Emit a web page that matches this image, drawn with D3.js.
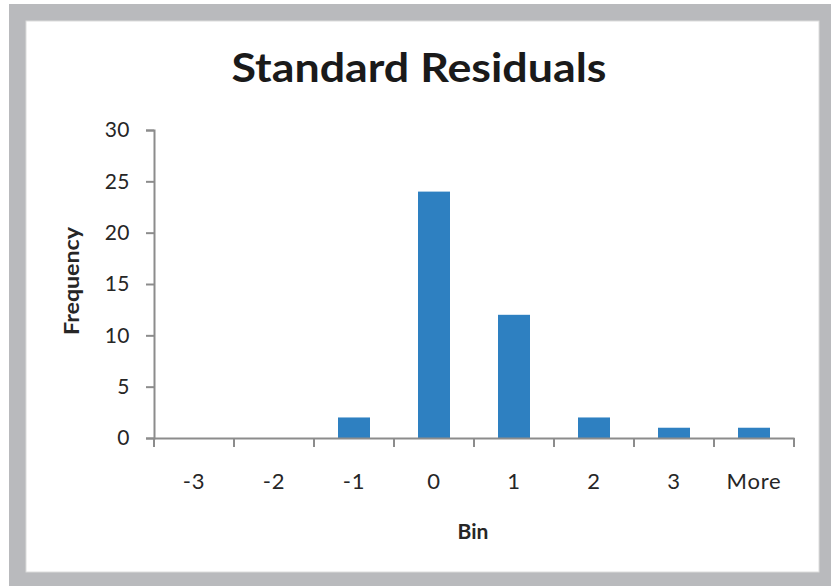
<!DOCTYPE html>
<html><head><meta charset="utf-8">
<script src="https://cdn.jsdelivr.net/npm/d3@7"></script>
<style>
html,body{margin:0;padding:0;background:#fff;}
svg{display:block;}
text{font-family:Lato,"Open Sans",sans-serif;}
</style></head>
<body>
<svg id="chart" width="831" height="586"></svg>
<script>
const categories = ["-3","-2","-1","0","1","2","3","More"];
const frequency = [0,0,2,24,12,2,1,1];
const yTicks = [0,5,10,15,20,25,30];
const title = "Standard Residuals";
const xTitle = "Bin";
const yTitle = "Frequency";

const svg = d3.select("#chart");
// frame
svg.append("rect").attr("x",9).attr("y",4).attr("width",822).attr("height",582).attr("fill","#b9babd");
svg.append("rect").attr("x",26).attr("y",21).attr("width",793).attr("height",551).attr("fill","#ffffff")
  .attr("stroke","#dcdcdc").attr("stroke-width",1);

const x = d3.scaleBand().domain(categories).range([154,794]).paddingInner(0.6).paddingOuter(0.3);
const y = d3.scaleLinear().domain([0,30]).range([438,130]);

const axisColor = "#8c8c8c";
const textColor = "#262626";

// bars
svg.append("g").selectAll("rect").data(frequency).join("rect")
  .attr("x",(d,i)=>x(categories[i]))
  .attr("width",x.bandwidth())
  .attr("y",d=>y(d))
  .attr("height",d=>y(0)-y(d))
  .attr("fill","#2e80c1");

// y axis
const yAxis = svg.append("g").attr("transform","translate(154,0)")
  .call(d3.axisLeft(y).tickValues(yTicks).tickSize(8).tickPadding(16));
yAxis.select(".domain").attr("stroke",axisColor).attr("stroke-width",2);
yAxis.selectAll(".tick line").attr("stroke",axisColor).attr("stroke-width",2);
yAxis.selectAll(".tick text").attr("fill",textColor).attr("font-size",21).attr("font-family","Lato")
  .attr("letter-spacing","0.5px");

// x axis
const xAxis = svg.append("g").attr("transform","translate(0,438)")
  .call(d3.axisBottom(x).tickSize(0).tickPadding(35).tickSizeOuter(0));
xAxis.select(".domain").attr("stroke",axisColor).attr("stroke-width",2);
xAxis.selectAll(".tick text").attr("fill",textColor).attr("font-size",22).attr("font-family","Lato")
  .attr("letter-spacing","0.8px");
// boundary ticks
const bounds = d3.range(categories.length+1).map(i => x.range()[0] + i*x.step());
xAxis.selectAll(".bound").data(bounds).join("line").attr("class","bound")
  .attr("x1",d=>d).attr("x2",d=>d).attr("y1",0).attr("y2",9)
  .attr("stroke",axisColor).attr("stroke-width",2);

// title
svg.append("text").attr("x",419).attr("y",82).attr("text-anchor","middle")
  .attr("font-size",40).attr("font-weight","bold").attr("fill","#1a1a1a")
  .attr("textLength",375).attr("lengthAdjust","spacingAndGlyphs")
  .text(title);

// x title
svg.append("text").attr("x",473).attr("y",539).attr("text-anchor","middle")
  .attr("font-size",21).attr("font-weight","bold").attr("fill",textColor)
  .text(xTitle);

// y title
svg.append("text").attr("transform","translate(79,281) rotate(-90)").attr("text-anchor","middle")
  .attr("font-size",20).attr("font-weight","bold").attr("fill",textColor)
  .attr("textLength",108).attr("lengthAdjust","spacingAndGlyphs")
  .text(yTitle);
</script>
</body></html>
